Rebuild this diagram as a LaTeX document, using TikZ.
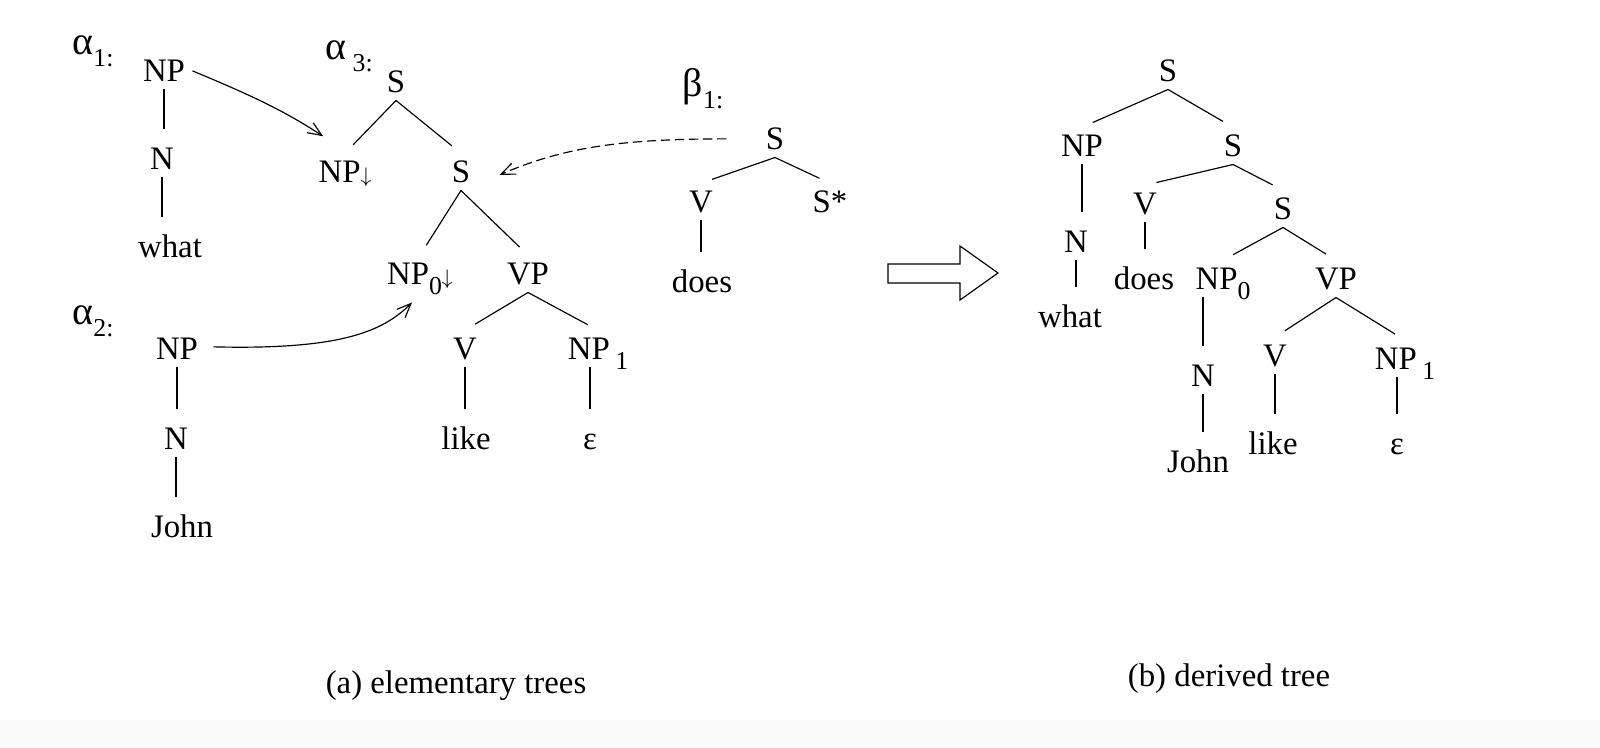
\documentclass[tikz,border=0pt]{standalone}
\usepackage{fontspec}
\setmainfont{Liberation Serif}
\usetikzlibrary{arrows.meta}
\newcommand{\treename}[2]{{\fontsize{17}{17}\selectfont #1}\raisebox{-5pt}{\fontsize{11}{11}\selectfont #2}}
\newcommand{\lowsub}[1]{\raisebox{-4pt}{\fontsize{11}{11}\selectfont #1}}
\newcommand{\subst}{{\fontsize{9}{9}\selectfont$\downarrow$}}

\begin{document}
\begin{tikzpicture}[
    x=0.015cm, y=-0.015cm,
    lab/.style={anchor=base, inner sep=3pt, text height=9.5pt, text depth=0pt,
                font=\fontsize{14}{16}\selectfont},
    tname/.style={anchor=base, inner sep=0pt, font=\fontsize{14}{16}\selectfont},
    edge/.style={line width=0.5pt, shorten >=5pt},
    subarr/.style={line width=0.5pt, -{Straight Barb[length=6pt,width=5pt]}},
    caption/.style={anchor=base, font=\fontsize{14}{16}\selectfont}
]
\useasboundingbox (0,0) rectangle (1600,748);
\fill[black!2] (0,720) rectangle (1600,748);

% elementary tree alpha 1
\node[tname] (ta1) at (93,55) {\treename{α}{1:}};
\node[lab] (npa) at (164,82) {NP};
\node[lab] (na) at (162,170) {N};
\node[lab] (wha) at (170,258) {what};
\draw[edge] (npa) -- (npa |- na.north);
\draw[edge] (na) -- (na |- wha.north);

% elementary tree alpha 2
\node[tname] (ta2) at (93,325) {\treename{α}{2:}};
\node[lab] (npb) at (177,360) {NP};
\node[lab] (nb) at (176,450) {N};
\node[lab] (johnb) at (182,538) {John};
\draw[edge] (npb) -- (npb |- nb.north);
\draw[edge] (nb) -- (nb |- johnb.north);

% elementary tree alpha 3
\node[tname] (ta3) at (349,60) {\treename{α\,}{3:}};
\node[lab] (sa) at (396,93) {S};
\node[lab] (npd) at (345,183) {NP\subst};
\node[lab] (sb) at (461,183) {S};
\node[lab] (npz) at (420,285) {NP\lowsub{0}\subst};
\node[lab] (vpa) at (528,285) {VP};
\node[lab] (va) at (465,360) {V};
\node[lab] (npo) at (598,360) {NP\,\lowsub{1}};
\node[lab] (likea) at (466,450) {like};
\node[lab] (epsa) at (590,450) {ε};
\draw[edge] (sa.south) -- (npd.north);
\draw[edge] (sa.south) -- (sb.north);
\draw[edge] (sb.south) -- (npz.north);
\draw[edge] (sb.south) -- (vpa.north);
\draw[edge] (vpa.south) -- (va.north);
\draw[edge] (vpa.south) -- (npo.north);
\draw[edge] (va) -- (va |- likea.north);
\draw[edge] (epsa |- npo.south) -- (epsa);

% auxiliary tree beta 1
\node[tname] (tb1) at (703,97) {\treename{β}{1:}};
\node[lab] (sbeta) at (775,150) {S};
\node[lab] (vbeta) at (701,213) {V};
\node[lab] (sstar) at (830,213) {S*};
\node[lab] (doesb) at (702,293) {does};
\draw[edge] (sbeta.south) -- (vbeta.north);
\draw[edge] (sbeta.south) -- (sstar.north);
\draw[edge] (vbeta) -- (vbeta |- doesb.north);

% substitution and adjunction
\draw[subarr] (npa.east) .. controls +(60,25) and +(-40,-26) .. ([shift={(12,-17)}]npd.north west);
\draw[subarr] ([shift={(8,-2)}]npb.east) .. controls +(125,3) and +(-30,30) .. ([shift={(-8,10)}]npz.south);
\draw[subarr, dash pattern=on 4pt off 2pt] ([shift={(-32,0)}]sbeta.west) .. controls +(-108,0) and +(63,-27) .. ([shift={(22,3)}]sb.east);

% derivation arrow
\draw[line width=0.5pt] (888,264) -- (960,264) -- (960,246) -- (998,273)
    -- (960,300) -- (960,283) -- (888,283) -- cycle;

% derived tree
\node[lab] (s0) at (1168,82) {S};
\node[lab] (np) at (1082,157) {NP};
\node[lab] (s1) at (1233,157) {S};
\node[lab] (n) at (1076,253) {N};
\node[lab] (what) at (1070,328) {what};
\node[lab] (v) at (1145,215) {V};
\node[lab] (s2) at (1283,220) {S};
\node[lab] (does) at (1144,290) {does};
\node[lab] (np0) at (1223,290) {NP\lowsub{0}};
\node[lab] (vp) at (1336,290) {VP};
\node[lab] (n2) at (1203,387) {N};
\node[lab] (john) at (1198,473) {John};
\node[lab] (v2) at (1275,367) {V};
\node[lab] (np1) at (1405,370) {NP\,\lowsub{1}};
\node[lab] (like) at (1273,455) {like};
\node[lab] (eps) at (1397,455) {ε};
\draw[edge] (s0.south) -- (np.north);
\draw[edge] (s0.south) -- (s1.north);
\draw[edge] (np) -- (np |- n.north);
\draw[edge] (n) -- (n |- what.north);
\draw[edge] (s1.south) -- (v.north);
\draw[edge] (s1.south) -- (s2.north);
\draw[edge] (v) -- (v |- does.north);
\draw[edge] (s2.south) -- (np0.north);
\draw[edge] (s2.south) -- (vp.north);
\draw[edge] (n2 |- np0.south) -- (n2);
\draw[edge] (n2) -- (n2 |- john.north);
\draw[edge] (vp.south) -- (v2.north);
\draw[edge] (vp.south) -- (np1.north);
\draw[edge] (v2) -- (v2 |- like.north);
\draw[edge] (eps |- np1.south) -- (eps);

% captions
\node[caption] (capa) at (456,694) {(a) elementary trees};
\node[caption] (capb) at (1229,687) {(b) derived tree};
\end{tikzpicture}
\end{document}
